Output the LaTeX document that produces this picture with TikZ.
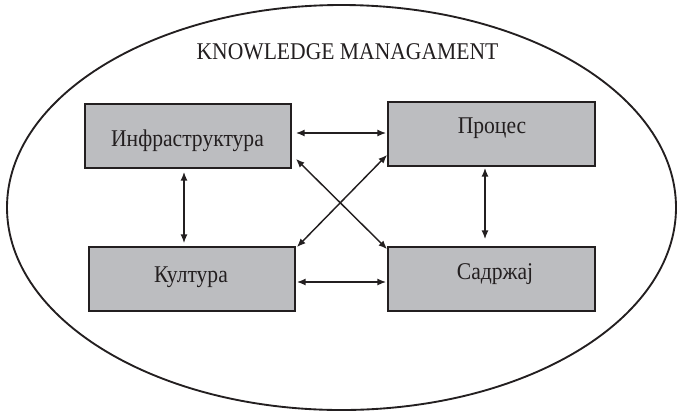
\documentclass[tikz,border=0pt]{standalone}
\usepackage{fontspec}
\setmainfont{Liberation Serif}[FakeStretch=0.9]
\usetikzlibrary{arrows.meta,calc}
\definecolor{boxgray}{RGB}{188,189,192}
\definecolor{ink}{RGB}{35,31,32}
\begin{document}
\begin{tikzpicture}[x=0.75pt,y=-0.75pt,
  box/.style={draw=ink,line width=1.3pt,fill=boxgray,rectangle,minimum width=206*0.75pt,minimum height=64*0.75pt,inner sep=0pt},
  lbl/.style={anchor=base,font=\fontsize{18pt}{20pt}\selectfont,text=ink,inner sep=0pt},
  arr/.style={draw=ink,line width=1.1pt,{Latex[length=6.5pt,width=5.2pt]}-{Latex[length=6.5pt,width=5.2pt]}}]
\useasboundingbox (0,0) rectangle (677,412);
\draw[ink,line width=1.4pt] (341.5,207.5) ellipse [x radius=334.5, y radius=202.5];
\node[lbl] (title) at (347.5,59) {KNOWLEDGE MANAGAMENT};
\node[box] (infra) at (188,136) {};
\node[box,minimum width=207*0.75pt] (proces) at (491.5,134) {};
\node[box] (kultura) at (192,279) {};
\node[box,minimum width=207*0.75pt] (sadrzaj) at (491.5,279) {};
\node[lbl] (infraT) at (187.5,146) {Инфраструктура};
\node[lbl] (procesT) at (492,133) {Процес};
\node[lbl] (kulturaT) at (191,282.5) {Култура};
\node[lbl] (sadrzajT) at (495,279) {Садржај};
% horizontal
\draw[arr] ($(infra.east)+(4,-3)$) -- ($(proces.west)+(-1,-1)$);
\draw[arr] ($(kultura.east)+(1,3)$) -- ($(sadrzaj.west)+(-1,3)$);
% vertical
\draw[arr] ($(infra.south)+(-4,3)$) -- ($(kultura.north)+(-8,-3)$);
\draw[arr] ($(proces.south)+(-6.5,1)$) -- ($(sadrzaj.north)+(-6.5,-7)$);
% diagonals
\draw[arr] ($(infra.south east)+(4,-10)$) -- ($(sadrzaj.north west)+(0,3)$);
\draw[arr] ($(proces.south west)+(0,-12)$) -- ($(kultura.north east)+(1,1)$);
\end{tikzpicture}
\end{document}
